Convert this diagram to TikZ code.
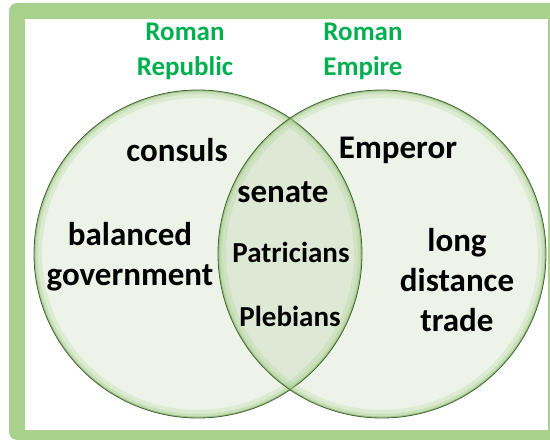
\documentclass[tikz,border=0pt]{standalone}
\usepackage{fontspec}
\setmainfont{Carlito}
\usepackage{tikz}
\definecolor{framegreen}{RGB}{169,209,142}
\definecolor{titlegreen}{RGB}{0,176,80}
\definecolor{rimgreen}{RGB}{62,104,46}
\definecolor{circfill}{RGB}{237,243,232}
\definecolor{lensfill}{RGB}{222,233,213}
\newcommand\bigtxt{\fontsize{33}{40}\selectfont\bfseries}
\newcommand\midtxt{\fontsize{29}{36}\selectfont\bfseries}

\begin{document}
\begin{tikzpicture}[x=1pt, y=-1pt,
  title/.style={align=center, text=titlegreen, font=\fontsize{27}{35}\selectfont\bfseries},
  word/.style={align=center, font=\bigtxt},
  inword/.style={align=center, font=\midtxt}]
\clip (0,0) rectangle (550,441);
% frame
\fill[framegreen, rounded corners=8pt] (9,3) rectangle (570,440);
\fill[white] (25,19) rectangle (548,430);
\coordinate (rc) at (198,254);
\coordinate (ec) at (382,254);
% circles
\fill[circfill] (rc) circle (164);
\fill[circfill] (ec) circle (164);
\begin{scope}
\clip (rc) circle (164);
\fill[lensfill] (ec) circle (164);
\end{scope}
\foreach \c in {rc,ec}{
\begin{scope}
\clip (\c) circle (164);
\draw[framegreen, line width=16pt, opacity=.25] (\c) circle (164);
\draw[framegreen, line width=8pt, opacity=.35] (\c) circle (164);
\draw[framegreen!80!black, line width=3pt, opacity=.5] (\c) circle (164);
\end{scope}
\draw[rimgreen, line width=.8pt] (\c) circle (164);
}
% titles
\node[title] (rep) at (185,51) {Roman\\Republic};
\node[title] (emp) at (363,51) {Roman\\Empire};
% words
\node[word] (cons) at (177,150) {consuls};
\node[word] (empr) at (398,150) {Emperor};
\node[word] (bal) at (130,257) {balanced\\government};
\node[word] (trade) at (457,280) {long\\distance\\trade};
\node[word] (sen) at (283,192) {senate};
\node[inword] (pat) at (291,252) {Patricians};
\node[inword] (pleb) at (290,316) {Plebians};
\end{tikzpicture}
\end{document}
